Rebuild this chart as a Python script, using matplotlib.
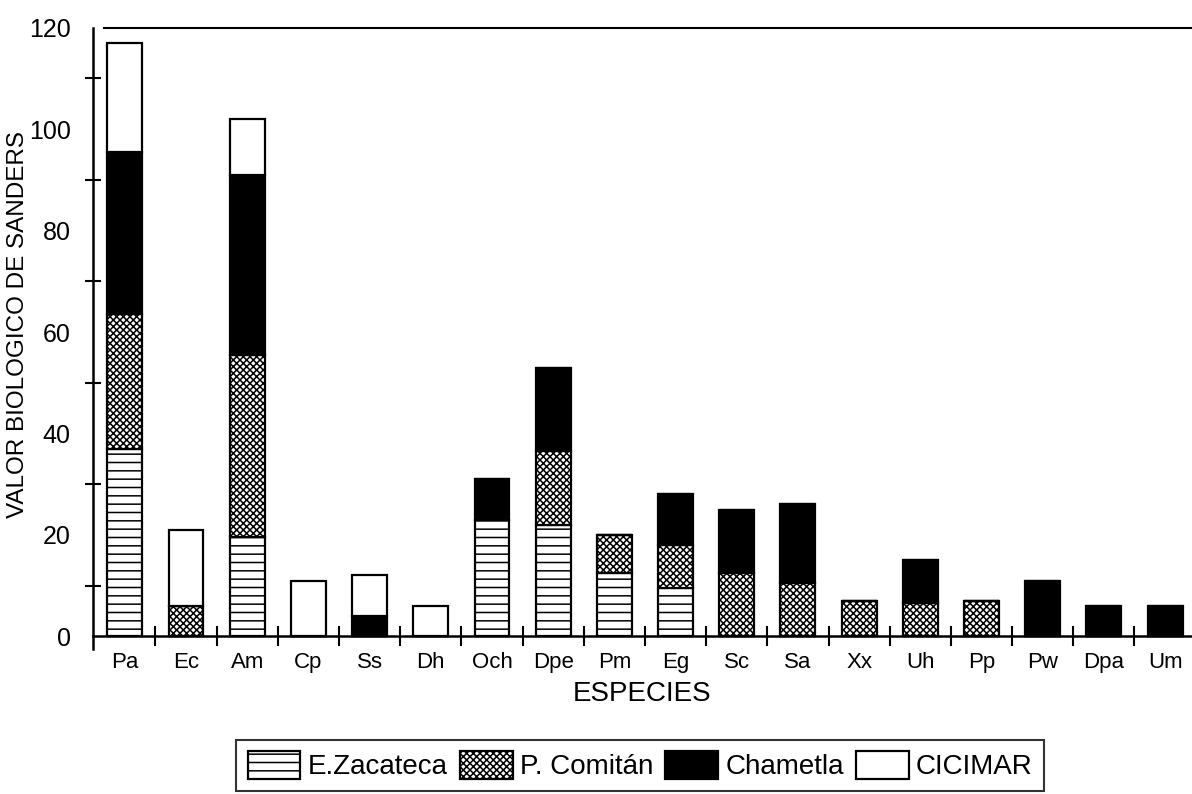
import numpy as np
import matplotlib.pyplot as plt

plt.rcParams['font.family'] = ['Liberation Sans', 'DejaVu Sans']
plt.rcParams['hatch.linewidth'] = 1.1

# data
especies = ['Pa', 'Ec', 'Am', 'Cp', 'Ss', 'Dh', 'Och', 'Dpe', 'Pm',
            'Eg', 'Sc', 'Sa', 'Xx', 'Uh', 'Pp', 'Pw', 'Dpa', 'Um']
zacateca = [37, 0, 19.5, 0, 0, 0, 23, 22, 12.5, 9.5, 0, 0, 0, 0, 0, 0, 0, 0]
comitan = [26.5, 6, 36, 0, 0, 0, 0, 14.5, 7.5, 8.5, 12.5, 10.5, 7, 6.5, 7, 0, 0, 0]
chametla = [32, 0, 35.5, 0, 4, 0, 8, 16.5, 0, 10, 12.5, 15.5, 0, 8.5, 0, 11, 6, 6]
cicimar = [21.5, 15, 11, 11, 8, 6, 0, 0, 0, 0, 0, 0, 0, 0, 0, 0, 0, 0]

series = [
    ('E.Zacateca', zacateca, dict(color='white', hatch='--')),
    ('P. Comitán', comitan, dict(color='white', hatch='xxxxx')),
    ('Chametla', chametla, dict(color='black')),
    ('CICIMAR', cicimar, dict(color='white')),
]

fig = plt.figure(figsize=(11.92, 7.94), dpi=100)
ax = fig.add_axes([0.078, 0.182, 0.922, 0.783])

x = np.arange(len(especies))
bottom = np.zeros(len(especies))
handles = []
for name, vals, st in series:
    vals = np.array(vals, dtype=float)
    b = ax.bar(x, vals, width=0.57, bottom=bottom, facecolor=st['color'],
               hatch=st.get('hatch'), edgecolor='black', linewidth=1.6,
               label=name)
    handles.append(b)
    bottom += vals

ax.set_xlim(-0.52, 17.44)
ax.set_ylim(-2.6, 120)

ax.spines['right'].set_visible(False)
ax.spines['bottom'].set_position(('data', 0))
ax.spines['bottom'].set_linewidth(1.8)
ax.spines['left'].set_linewidth(1.8)
ax.spines['top'].set_linewidth(1.5)
ax.spines['top'].set_bounds(-0.34, 17.44)

ax.set_yticks(np.arange(0, 121, 20))
ax.set_yticks(np.arange(10, 120, 20), minor=True)
ax.tick_params(axis='y', which='major', length=0, pad=16, labelsize=18)
ax.tick_params(axis='y', which='minor', direction='inout', length=12, width=1.5)

ax.set_xticks(x)
ax.set_xticklabels(especies)
ax.set_xticks(x[:-1] + 0.5, minor=True)
ax.tick_params(axis='x', which='major', length=0, pad=11, labelsize=16)
ax.tick_params(axis='x', which='minor', direction='inout', length=14, width=1.5)

ax.set_xlabel('ESPECIES', fontsize=20, labelpad=6)
ax.set_ylabel('VALOR BIOLOGICO DE SANDERS', fontsize=17.5)
ax.yaxis.set_label_coords(-0.058, 0.522)

leg = fig.legend(handles=handles, loc='upper center', bbox_to_anchor=(0.537, 0.068),
                 ncol=4, frameon=True, fancybox=False, fontsize=20,
                 handlelength=1.9, handleheight=1.15, handletextpad=0.25,
                 columnspacing=0.45, borderpad=0.4, borderaxespad=0,
                 edgecolor='black')
leg.get_frame().set_linewidth(1.5)

fig.savefig('out.png', dpi=100)
